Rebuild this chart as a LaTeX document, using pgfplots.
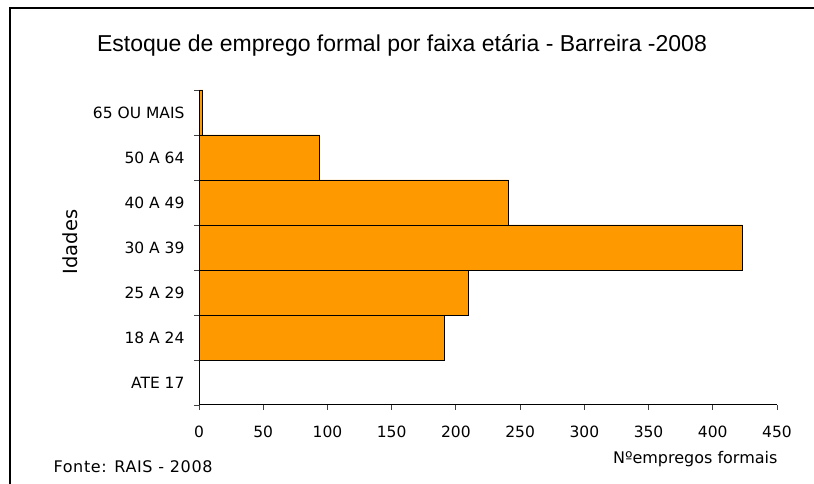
\documentclass[border=0pt]{standalone}
\usepackage{pgfplots}
\pgfplotsset{compat=1.18}
\usepackage{fontspec}
\setmainfont{DejaVu Sans}
\newfontfamily\titlefont{Liberation Sans}
\newfontfamily\spacedfont[LetterSpace=4]{DejaVu Sans}
\definecolor{barorange}{HTML}{FF9900}

\begin{document}
\begin{tikzpicture}[x=1pt,y=1pt]
\useasboundingbox (0,0) rectangle (814,484);
% outer frame (top and left edges visible)
\draw[line width=1.3pt] (10,0) -- (10,476) -- (814,476);

\begin{axis}[
    at={(199pt,79pt)}, anchor=south west,
    scale only axis, width=578pt, height=315pt,
    xbar, bar width=1,
    xmin=0, xmax=450, ymin=-0.5, ymax=6.5,
    axis x line*=bottom, axis y line*=left,
    axis line style={black, line width=1pt},
    tick style={black!75, line width=0.9pt},
    tick align=outside, major tick length=5pt,
    xtick={0,50,...,450},
    ytick={-0.5,0.5,...,6.5}, yticklabels={},
    extra y ticks={0,1,2,3,4,5,6},
    extra y tick labels={ATE 17, 18 A 24, 25 A 29, 30 A 39, 40 A 49, 50 A 64, 65 OU MAIS},
    extra y tick style={major tick length=0pt},
    /pgf/number format/assume math mode=true,
    tick label style={font=\fontsize{15.5}{18}\selectfont},
    yticklabel style={anchor=east, xshift=-11pt},
    xticklabel style={yshift=-12pt},
]
\addplot[fill=barorange, draw=black, line width=0.8pt] coordinates {
    (0,0) (191,1) (210,2) (423,3) (241,4) (94,5) (3,6)
};
\end{axis}

\node[font=\titlefont\fontsize{23}{27}\selectfont] at (402,439)
    {Estoque de emprego formal por faixa etária - Barreira -2008};
\node[rotate=90, font=\fontsize{19.5}{22}\selectfont] at (70,242) {Idades};
\node[anchor=east, font=\fontsize{16}{19}\selectfont] at (781,25) {Nºempregos formais};
\node[anchor=west, font=\spacedfont\fontsize{16}{19}\selectfont] at (50,17) {Fonte: RAIS - 2008};
\end{tikzpicture}
\end{document}
